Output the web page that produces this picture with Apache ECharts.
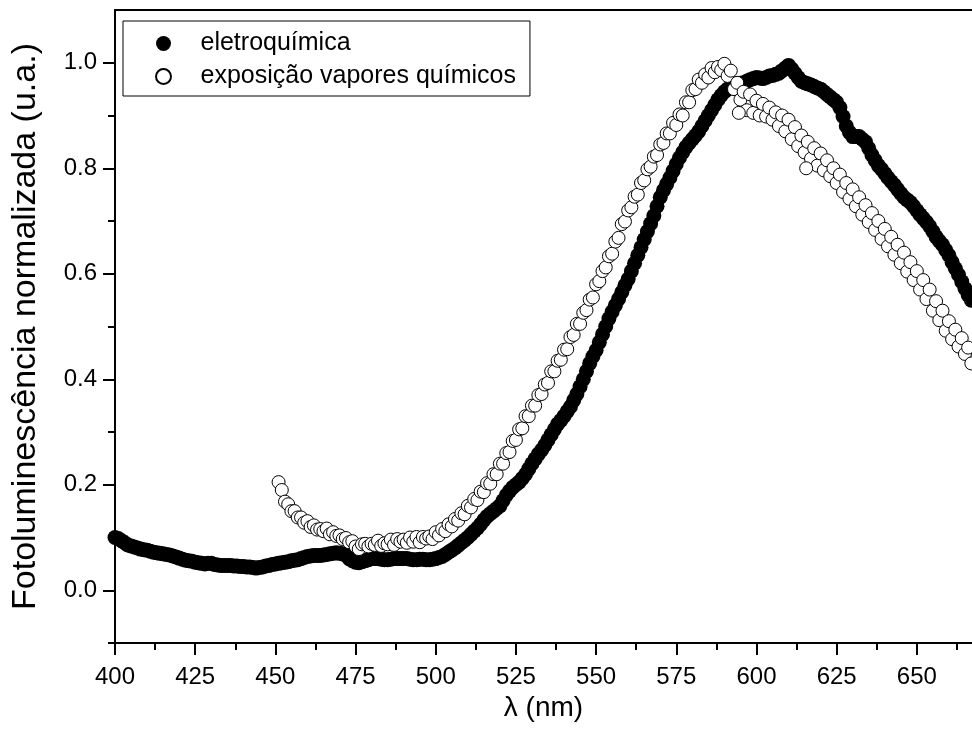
<!DOCTYPE html>
<html>
<head>
<meta charset="utf-8">
<script src="https://cdn.jsdelivr.net/npm/echarts@6/dist/echarts.min.js"></script>
<style>html,body{margin:0;padding:0;background:#fff}#c{width:972px;height:729px}</style>
</head>
<body>
<div id="c"></div>
<script>
// ---- data ----
const seriesNames = ['eletroquímica', 'exposição vapores químicos'];

// eletroquímica (filled circles), 1 nm steps 400..667
const filledX = [400,401,402,403,404,405,406,407,408,409,410,411,412,413,414,415,416,417,418,419,420,421,422,423,424,425,426,427,428,429,430,431,432,433,434,435,436,437,438,439,440,441,442,443,444,445,446,447,448,449,450,451,452,453,454,455,456,457,458,459,460,461,462,463,464,465,466,467,468,469,470,471,472,473,474,475,476,477,478,479,480,481,482,483,484,485,486,487,488,489,490,491,492,493,494,495,496,497,498,499,500,501,502,503,504,505,506,507,508,509,510,511,512,513,514,515,516,517,518,519,520,521,522,523,524,525,526,527,528,529,530,531,532,533,534,535,536,537,538,539,540,541,542,543,544,545,546,547,548,549,550,551,552,553,554,555,556,557,558,559,560,561,562,563,564,565,566,567,568,569,570,571,572,573,574,575,576,577,578,579,580,581,582,583,584,585,586,587,588,589,590,591,592,593,594,595,596,597,598,599,600,601,602,603,604,605,606,607,608,609,610,611,612,613,614,615,616,617,618,619,620,621,622,623,624,625,626,627,628,629,630,631,632,633,634,635,636,637,638,639,640,641,642,643,644,645,646,647,648,649,650,651,652,653,654,655,656,657,658,659,660,661,662,663,664,665,666,667];
const filledY = [0.100,0.098,0.094,0.090,0.086,0.084,0.082,0.080,0.078,0.077,0.076,0.074,0.072,0.071,0.070,0.069,0.068,0.067,0.065,0.063,0.061,0.059,0.057,0.056,0.055,0.053,0.052,0.051,0.050,0.051,0.051,0.049,0.048,0.047,0.047,0.047,0.047,0.046,0.046,0.045,0.045,0.044,0.044,0.043,0.042,0.043,0.044,0.046,0.047,0.049,0.050,0.051,0.052,0.053,0.054,0.056,0.057,0.058,0.060,0.062,0.064,0.065,0.066,0.066,0.066,0.067,0.068,0.069,0.070,0.071,0.070,0.069,0.066,0.060,0.056,0.053,0.052,0.054,0.056,0.058,0.060,0.060,0.060,0.059,0.058,0.058,0.059,0.060,0.060,0.060,0.060,0.060,0.059,0.058,0.058,0.059,0.059,0.058,0.058,0.059,0.060,0.062,0.064,0.068,0.072,0.076,0.080,0.085,0.090,0.095,0.100,0.106,0.112,0.118,0.125,0.133,0.140,0.145,0.150,0.155,0.160,0.170,0.180,0.188,0.195,0.200,0.205,0.212,0.220,0.230,0.240,0.249,0.258,0.266,0.275,0.285,0.295,0.305,0.315,0.322,0.330,0.339,0.348,0.360,0.372,0.386,0.400,0.415,0.430,0.443,0.455,0.470,0.485,0.500,0.515,0.528,0.540,0.552,0.565,0.578,0.590,0.605,0.620,0.635,0.650,0.665,0.680,0.695,0.710,0.728,0.745,0.758,0.770,0.782,0.795,0.808,0.820,0.830,0.840,0.848,0.855,0.862,0.870,0.880,0.890,0.900,0.910,0.920,0.930,0.938,0.945,0.950,0.955,0.958,0.960,0.961,0.962,0.965,0.968,0.970,0.972,0.971,0.970,0.972,0.975,0.976,0.978,0.980,0.985,0.990,0.995,0.988,0.980,0.972,0.965,0.962,0.960,0.958,0.955,0.952,0.950,0.945,0.940,0.935,0.930,0.925,0.915,0.898,0.880,0.868,0.860,0.860,0.860,0.855,0.850,0.838,0.825,0.815,0.805,0.798,0.790,0.782,0.775,0.768,0.760,0.752,0.745,0.740,0.735,0.728,0.720,0.712,0.705,0.698,0.690,0.680,0.670,0.662,0.655,0.645,0.635,0.622,0.610,0.598,0.585,0.572,0.560,0.550];

// exposição vapores químicos (open circles), 1 nm steps 451..667 plus two stray points
const openX = [451,452,453,454,455,456,457,458,459,460,461,462,463,464,465,466,467,468,469,470,471,472,473,474,475,476,477,478,479,480,481,482,483,484,485,486,487,488,489,490,491,492,493,494,495,496,497,498,499,500,501,502,503,504,505,506,507,508,509,510,511,512,513,514,515,516,517,518,519,520,521,522,523,524,525,526,527,528,529,530,531,532,533,534,535,536,537,538,539,540,541,542,543,544,545,546,547,548,549,550,551,552,553,554,555,556,557,558,559,560,561,562,563,564,565,566,567,568,569,570,571,572,573,574,575,576,577,578,579,580,581,582,583,584,585,586,587,588,589,590,591,592,593,594,595,596,597,598,599,600,601,602,603,604,605,606,607,608,609,610,611,612,613,614,615,616,617,618,619,620,621,622,623,624,625,626,627,628,629,630,631,632,633,634,635,636,637,638,639,640,641,642,643,644,645,646,647,648,649,650,651,652,653,654,655,656,657,658,659,660,661,662,663,664,665,666,667,594.5,615.5];
const openY = [0.205,0.190,0.168,0.163,0.150,0.150,0.138,0.138,0.128,0.131,0.120,0.123,0.115,0.116,0.112,0.117,0.106,0.110,0.103,0.104,0.097,0.099,0.091,0.093,0.083,0.078,0.087,0.088,0.083,0.088,0.086,0.094,0.084,0.089,0.087,0.096,0.086,0.097,0.092,0.096,0.090,0.100,0.092,0.101,0.091,0.101,0.098,0.102,0.097,0.110,0.104,0.116,0.112,0.125,0.121,0.135,0.132,0.146,0.144,0.160,0.157,0.173,0.171,0.187,0.186,0.203,0.202,0.220,0.220,0.240,0.240,0.260,0.262,0.283,0.285,0.305,0.307,0.330,0.330,0.350,0.350,0.370,0.372,0.390,0.393,0.415,0.415,0.435,0.437,0.456,0.457,0.480,0.484,0.505,0.505,0.526,0.531,0.551,0.555,0.580,0.586,0.605,0.612,0.633,0.638,0.661,0.668,0.694,0.699,0.720,0.726,0.746,0.750,0.772,0.777,0.798,0.803,0.822,0.825,0.845,0.848,0.866,0.866,0.886,0.882,0.902,0.900,0.925,0.925,0.948,0.950,0.968,0.962,0.978,0.972,0.990,0.982,0.992,0.986,0.998,0.975,0.985,0.950,0.962,0.930,0.945,0.910,0.940,0.905,0.928,0.900,0.922,0.898,0.915,0.892,0.906,0.880,0.900,0.870,0.892,0.855,0.878,0.842,0.862,0.830,0.850,0.818,0.838,0.805,0.828,0.796,0.815,0.785,0.800,0.772,0.788,0.755,0.772,0.742,0.760,0.728,0.745,0.712,0.730,0.698,0.715,0.683,0.700,0.666,0.685,0.652,0.670,0.636,0.655,0.620,0.640,0.604,0.622,0.588,0.605,0.570,0.588,0.552,0.570,0.530,0.548,0.512,0.530,0.492,0.510,0.476,0.494,0.462,0.478,0.448,0.460,0.430,0.905,0.800];

const xTicks = [400,425,450,475,500,525,550,575,600,625,650];
const xMinorTicks = [412.5,437.5,462.5,487.5,512.5,537.5,562.5,587.5,612.5,637.5,662.5];
const yTicks = [0.0,0.2,0.4,0.6,0.8,1.0];
const yMinorTicks = [-0.1,0.1,0.3,0.5,0.7,0.9];

const xTitle = 'λ (nm)';
const yTitle = 'Fotoluminescência normalizada (u.a.)';

// ---- chart ----
const FONT = '"Liberation Sans", Arial, sans-serif';
const BLACK = '#000';
const chart = echarts.init(document.getElementById('c'), null, {renderer: 'canvas'});

const zip = (xs, ys) => xs.map((x, i) => [x, ys[i]]);
const lineStyle = {color: BLACK, width: 2};

chart.setOption({
  animation: false,
  backgroundColor: '#fff',
  grid: {left: 115, right: 0, top: 10, bottom: 86, containLabel: false},
  legend: {
    orient: 'vertical',
    left: 123, top: 21,
    padding: [10, 14, 7, 32],
    itemGap: 8,
    itemWidth: 64, itemHeight: 15,
    borderColor: BLACK, borderWidth: 1,
    backgroundColor: '#fff',
    textStyle: {fontFamily: FONT, fontSize: 25, color: BLACK, lineHeight: 22},
    data: [{name: seriesNames[0], icon: 'circle'}, {name: seriesNames[1], icon: 'circle'}]
  },
  xAxis: [
    {
      type: 'value', min: 400, max: 667.2, position: 'bottom',
      axisLine: {show: true, onZero: false, lineStyle},
      axisTick: {show: true, inside: false, length: 12, lineStyle, customValues: xTicks},
      axisLabel: {show: true, customValues: xTicks, fontFamily: FONT, fontSize: 24, color: BLACK, margin: 22,
                  formatter: v => String(v)},
      splitLine: {show: false},
      name: xTitle, nameLocation: 'middle', nameGap: 18,
      nameTextStyle: {fontFamily: FONT, fontSize: 28, color: BLACK, verticalAlign: 'top'}
    },
    {
      type: 'value', min: 400, max: 667.2, position: 'bottom',
      axisLine: {show: false, onZero: false},
      axisTick: {show: true, inside: false, length: 7, lineStyle, customValues: xMinorTicks},
      axisLabel: {show: false},
      splitLine: {show: false}
    },
    {
      type: 'value', min: 400, max: 667.2, position: 'top',
      axisLine: {show: true, onZero: false, lineStyle},
      axisTick: {show: false}, axisLabel: {show: false}, splitLine: {show: false}
    }
  ],
  yAxis: [
    {
      type: 'value', min: -0.1, max: 1.1, position: 'left',
      axisLine: {show: true, onZero: false, lineStyle},
      axisTick: {show: true, inside: false, length: 12, lineStyle, customValues: yTicks},
      axisLabel: {show: true, customValues: yTicks, fontFamily: FONT, fontSize: 24, color: BLACK, margin: 18,
                  formatter: v => Number(v).toFixed(1)},
      splitLine: {show: false},
      name: yTitle, nameLocation: 'middle', nameGap: 72, nameRotate: 90,
      nameTextStyle: {fontFamily: FONT, fontSize: 34, color: BLACK}
    },
    {
      type: 'value', min: -0.1, max: 1.1, position: 'left',
      axisLine: {show: false, onZero: false},
      axisTick: {show: true, inside: false, length: 7, lineStyle, customValues: yMinorTicks},
      axisLabel: {show: false},
      splitLine: {show: false}
    }
  ],
  series: [
    {
      name: seriesNames[0], type: 'scatter', xAxisIndex: 0, yAxisIndex: 0,
      symbol: 'circle', symbolSize: 15,
      itemStyle: {color: BLACK, borderColor: BLACK, borderWidth: 0, opacity: 1},
      emphasis: {disabled: true},
      data: zip(filledX, filledY)
    },
    {
      name: seriesNames[1], type: 'scatter', xAxisIndex: 0, yAxisIndex: 0,
      symbol: 'circle', symbolSize: 13,
      itemStyle: {color: '#fff', borderColor: BLACK, borderWidth: 1, opacity: 1},
      emphasis: {disabled: true},
      data: zip(openX, openY)
    }
  ]
});
</script>
</body>
</html>
